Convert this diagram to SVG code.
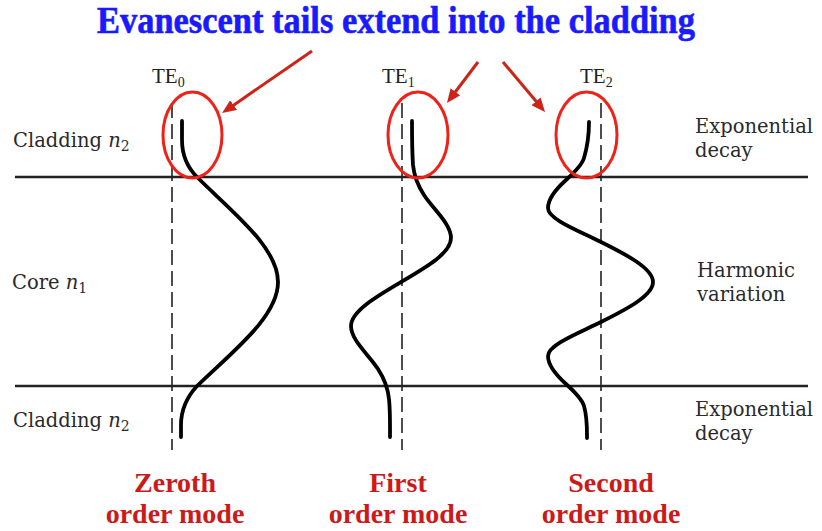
<svg xmlns="http://www.w3.org/2000/svg" width="822" height="531" viewBox="0 0 822 531">
<style>
.bg{fill:#ffffff}
.title{font-family:"Liberation Serif",serif;font-weight:bold;font-size:37px;fill:#1a1aff;stroke:#1a1aff;stroke-width:0.6}
.lab{font-family:"DejaVu Serif","Liberation Serif",serif;font-size:19.5px;fill:#2a2a2a}
.it{font-style:italic}
.te{font-family:"Liberation Serif",serif;font-size:21px;fill:#222222}
.mode{font-family:"Liberation Serif",serif;font-weight:bold;font-size:28px;fill:#cc1a1a;text-anchor:middle}
.bound{stroke:#222222;stroke-width:2.5;fill:none}
.axis{stroke:#222222;stroke-width:1.6;stroke-dasharray:15 6;fill:none}
.wave{stroke:#000000;stroke-width:3.8;fill:none;stroke-linecap:round;stroke-linejoin:round}
.ring{stroke:#ee2218;stroke-width:3;fill:none}
.arrow{stroke:#cc2418;stroke-width:3;fill:none;marker-end:url(#ah)}
</style>
<defs>
<marker id="ah" markerUnits="userSpaceOnUse" viewBox="0 0 14 12" markerWidth="14" markerHeight="12" refX="4" refY="6" orient="auto">
<path d="M0,0 L14,6 L0,12 z" fill="#cc2418"/>
</marker>
</defs>
<rect class="bg" x="0" y="0" width="822" height="531"/>

<g id="title">
<text class="title" x="396" y="33" text-anchor="middle" textLength="598" lengthAdjust="spacingAndGlyphs">Evanescent tails extend into the cladding</text>
</g>

<g id="boundaries">
<line class="bound" x1="15" y1="177" x2="808" y2="177"/>
<line class="bound" x1="15" y1="386" x2="808" y2="386"/>
</g>

<g id="layer-labels">
<text class="lab" x="13" y="147">Cladding <tspan class="it">n</tspan><tspan font-size="14" dy="4">2</tspan></text>
<text class="lab" x="12" y="289">Core <tspan class="it">n</tspan><tspan font-size="14" dy="4">1</tspan></text>
<text class="lab" x="13" y="427">Cladding <tspan class="it">n</tspan><tspan font-size="14" dy="4">2</tspan></text>
<text class="lab" x="695" y="133">Exponential</text>
<text class="lab" x="695" y="157">decay</text>
<text class="lab" x="697" y="277">Harmonic</text>
<text class="lab" x="697" y="301">variation</text>
<text class="lab" x="695" y="416">Exponential</text>
<text class="lab" x="695" y="440">decay</text>
</g>

<g id="mode-TE0">
<line class="axis" x1="172" y1="103" x2="172" y2="450"/>
<path class="wave" d="M182,121 L182,140 C182,152 185,165 197,177 C232,212 278,247 278,282 C278,317 232,352 197,386 C186,398 181,410 181,425 L181,437"/>
<ellipse class="ring" cx="192.5" cy="135" rx="29.5" ry="43"/>
<text class="te" x="152" y="83">TE<tspan font-size="14" dy="4">0</tspan></text>
<text class="mode" x="175" y="492">Zeroth</text>
<text class="mode" x="175" y="523">order mode</text>
</g>

<g id="mode-TE1">
<line class="axis" x1="402" y1="103" x2="402" y2="450"/>
<path class="wave" d="M412,121 C412,136 412,150 413,165 C414,175 417.5,185 424,195 C433.3,209.3 451,223.7 451,238 C451,253 426.5,267 401,282 C376,296.7 351,311.3 351,326 C351,340.3 368.7,354.7 378,369 C384.5,379 388,389 389,399 C390.3,411.7 390,424.3 390,437"/>
<ellipse class="ring" cx="418" cy="135" rx="30" ry="43"/>
<text class="te" x="382" y="83">TE<tspan font-size="14" dy="4">1</tspan></text>
<text class="mode" x="398" y="492">First</text>
<text class="mode" x="398" y="523">order mode</text>
</g>

<g id="mode-TE2">
<line class="axis" x1="601" y1="103" x2="601" y2="450"/>
<path class="wave" d="M589,122 C589,134 587.6,146 584,158 C581.8,165.3 574.1,172.7 566,180 C555.7,189.3 548,198.7 548,208 C548,219.3 578.3,230.7 601,242 C627.7,255.3 653,268.7 653,282 C653,295.3 627.7,308.7 601,322 C578.3,333.3 548,344.7 548,356 C548,365.3 555.7,374.7 566,384 C574.1,391.3 581.8,398.7 584,406 C587.2,416.7 587,427.3 587,438"/>
<ellipse class="ring" cx="586.5" cy="135" rx="30.5" ry="43"/>
<text class="te" x="580" y="83">TE<tspan font-size="14" dy="4">2</tspan></text>
<text class="mode" x="611" y="492">Second</text>
<text class="mode" x="611" y="523">order mode</text>
</g>

<g id="connectors">
<line class="arrow" x1="312" y1="51" x2="230.3" y2="107.4"/>
<line class="arrow" x1="478" y1="62" x2="453" y2="95"/>
<line class="arrow" x1="503" y1="62" x2="538.6" y2="104.3"/>
</g>
</svg>
